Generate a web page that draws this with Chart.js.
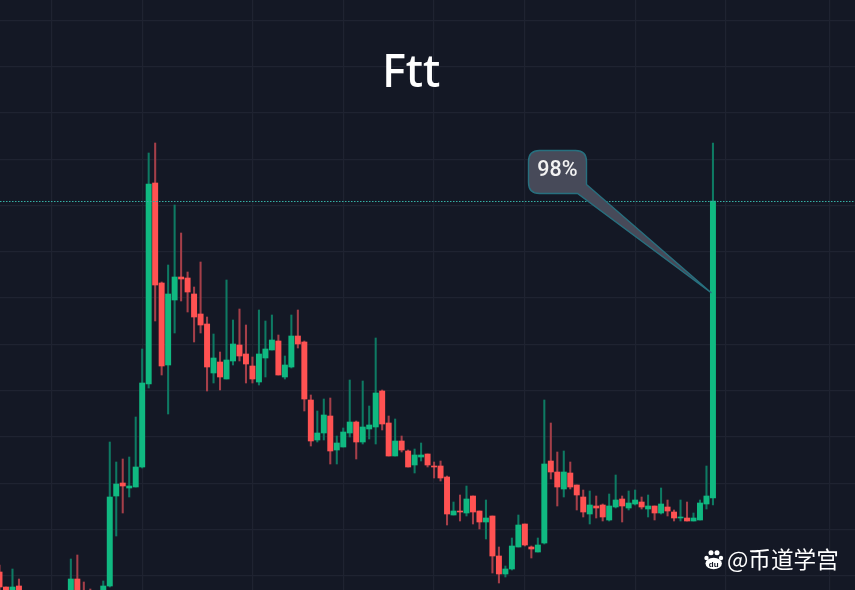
<!DOCTYPE html>
<html>
<head>
<meta charset="utf-8">
<style>html,body{margin:0;padding:0;background:#141825;overflow:hidden}canvas{display:block}</style>
<script src="https://cdn.jsdelivr.net/npm/chart.js@4"></script>
</head>
<body>
<canvas id="c" width="855" height="590"></canvas>
<script>
const titleText = "Ftt";
const calloutText = "98%";
const watermarkText = "@币道学宫";
const _ = null;
const opens = [18,3,-4,4,_,_,_,_,_,_,_,-6,11,-2,-2,_,-3,4,94,107,102,103,123,206,407,307,225,290,313,312,296,276,266,217,228,211,229,245,236,224,208,232,240,249,213,223,254,248,190,150,157,174,140,143,157,168,148,161,163,199,167,134,149,139,125,133,136,124,124,113,75,79,77,94,79,68,74,34,16,21,43,66,43,38,47,129,118,101,117,105,93,76,84,85,70,83,91,82,86,88,81,84,77,83,78,72,72,69,70,86,92];
const closes = [3,-4,3,-5,_,_,_,_,_,_,_,11,-6,-7,-6,_,4,93,106,104,104,123,207,406,305,224,296,313,311,298,273,265,223,232,213,230,246,234,226,211,236,241,250,215,225,254,246,191,149,157,175,139,147,158,168,148,163,165,197,166,134,149,140,123,135,135,125,123,112,76,79,78,91,78,68,72,34,16,21,44,65,45,41,45,126,118,103,118,103,95,78,85,82,73,84,90,84,87,90,83,84,77,86,79,72,73,69,72,87,94,389];
const highs = [25,3,21,11,_,_,_,_,_,_,_,31,35,8,1,_,9,148,128,131,133,173,241,437,447,308,325,385,357,318,303,328,273,256,238,310,270,281,265,233,280,269,275,255,234,275,280,249,195,179,191,192,154,162,210,169,209,184,252,200,174,171,154,140,141,147,136,128,129,114,88,95,104,94,79,90,74,43,24,52,75,66,44,52,190,167,138,139,128,105,100,99,94,86,96,115,94,99,100,93,95,84,102,90,80,90,88,77,90,124,447];
const lows = [-2,-6,-6,-7,_,_,_,_,_,_,_,-8,-8,-10,-8,_,-5,3,54,77,93,103,122,202,269,215,176,257,289,278,248,257,199,207,200,211,225,229,207,207,205,213,240,215,211,222,242,179,144,148,150,126,126,143,153,131,146,151,146,160,134,134,138,123,117,129,123,112,109,65,75,69,74,66,61,51,17,7,13,20,43,44,32,38,46,111,84,93,101,80,73,66,72,69,69,82,68,80,85,81,73,70,76,74,69,69,69,69,70,81,85];
const gridX = [8,22,39,53,67,81,98,112,128];
const gridY = [14,60,106.5,153,199,245.5,292,338,384.5,430.7,477,523.5,569.7];
const priceLine = 388.5;

const BG = "#141825";
const UP = "#10b981", DOWN = "#ff5252", UPW = "#0e7a63", DOWNW = "#a53f49";
const xMin = 0.077, xMax = 131.9;
const idx = opens.map((o,i)=>i).filter(i=>opens[i]!==null);
const lastIndex = opens.length-1;

const grid = {color:"#1f2331",lineWidth:1.2,drawTicks:false,offset:false};
const plugins = [{
  id:"paint",
  afterLayout(ch){ if(ch.titleBlock){ ch.titleBlock.left=0; ch.titleBlock.right=822; } },
  beforeDraw(ch){ const c=ch.ctx; c.save(); c.fillStyle=BG; c.fillRect(0,0,ch.width,ch.height); c.restore(); },
  afterDraw(ch){
    const c=ch.ctx, xs=ch.scales.x, ys=ch.scales.y;
    const tx=xs.getPixelForValue(lastIndex)-1.5, ty=ys.getPixelForValue(297);
    const l=528.5,t=150.5,r=586.5,b=193.5,rad=11;
    c.save();
    c.beginPath();
    c.moveTo(l+rad,t); c.lineTo(r-rad,t); c.quadraticCurveTo(r,t,r,t+rad);
    c.lineTo(r,b-9); c.lineTo(tx,ty); c.lineTo(r-9,b);
    c.lineTo(l+rad,b); c.quadraticCurveTo(l,b,l,b-rad);
    c.lineTo(l,t+rad); c.quadraticCurveTo(l,t,l+rad,t); c.closePath();
    c.fillStyle="#474a59"; c.fill();
    c.strokeStyle="#27707f"; c.lineWidth=1.4; c.stroke();
    c.fillStyle="#f2f2f2"; c.font="500 21.5px 'Roboto'"; c.textAlign="center"; c.textBaseline="middle";
    c.fillText(calloutText,557.5,171);
    // watermark
    c.fillStyle="#ffffff";
    [[706.5,558,2.2],[711,552.7,2.5],[717,552.7,2.5],[721,558,2.2]].forEach(p=>{c.beginPath();c.arc(p[0],p[1],p[2],0,7);c.fill();});
    c.beginPath();c.ellipse(713.7,563.5,8.2,5.8,0,0,7);c.fill();
    c.fillStyle=BG; c.font="bold 8px 'Liberation Sans'"; c.fillText("du",713.7,564.5);
    c.fillStyle="#ffffff"; c.font="22.6px 'Noto Sans CJK SC'"; c.textAlign="left"; c.textBaseline="alphabetic";
    c.fillText(watermarkText,727,568);
    c.restore();
  }
}];

new Chart(document.getElementById("c"),{
  data:{datasets:[
    {type:"line",data:[{x:xMin,y:priceLine},{x:xMax,y:priceLine}],borderColor:"#35b0a5",borderWidth:1,borderDash:[1.5,1.5],pointRadius:0,order:0},
    {type:"bar",label:"body",data:idx.map(i=>({x:i,y:[opens[i],closes[i]]})),backgroundColor:idx.map(i=>closes[i]>=opens[i]?UP:DOWN),barThickness:5.3,grouped:false,order:1,borderWidth:0,minBarLength:1},
    {type:"bar",label:"wick",data:idx.map(i=>({x:i,y:[lows[i],highs[i]]})),backgroundColor:idx.map(i=>closes[i]>=opens[i]?UPW:DOWNW),barThickness:1.4,grouped:false,order:2,borderWidth:0}
  ]},
  options:{
    responsive:false,animation:false,
    layout:{padding:0},
    plugins:{
      legend:{display:false},tooltip:{enabled:false},
      title:{display:true,text:titleText,color:"#ffffff",align:"center",font:{family:"'Noto Sans'",size:45,weight:"500",lineHeight:1},padding:{top:52,bottom:-97}}
    },
    scales:{
      x:{type:"linear",offset:false,min:xMin,max:xMax,grid,border:{display:false},ticks:{display:false},afterBuildTicks(a){a.ticks=gridX.map(v=>({value:v}));}},
      y:{type:"linear",min:0,max:590,grid,border:{display:false},ticks:{display:false},afterBuildTicks(a){a.ticks=gridY.map(v=>({value:v}));}}
    }
  },
  plugins
});
</script>
</body>
</html>
